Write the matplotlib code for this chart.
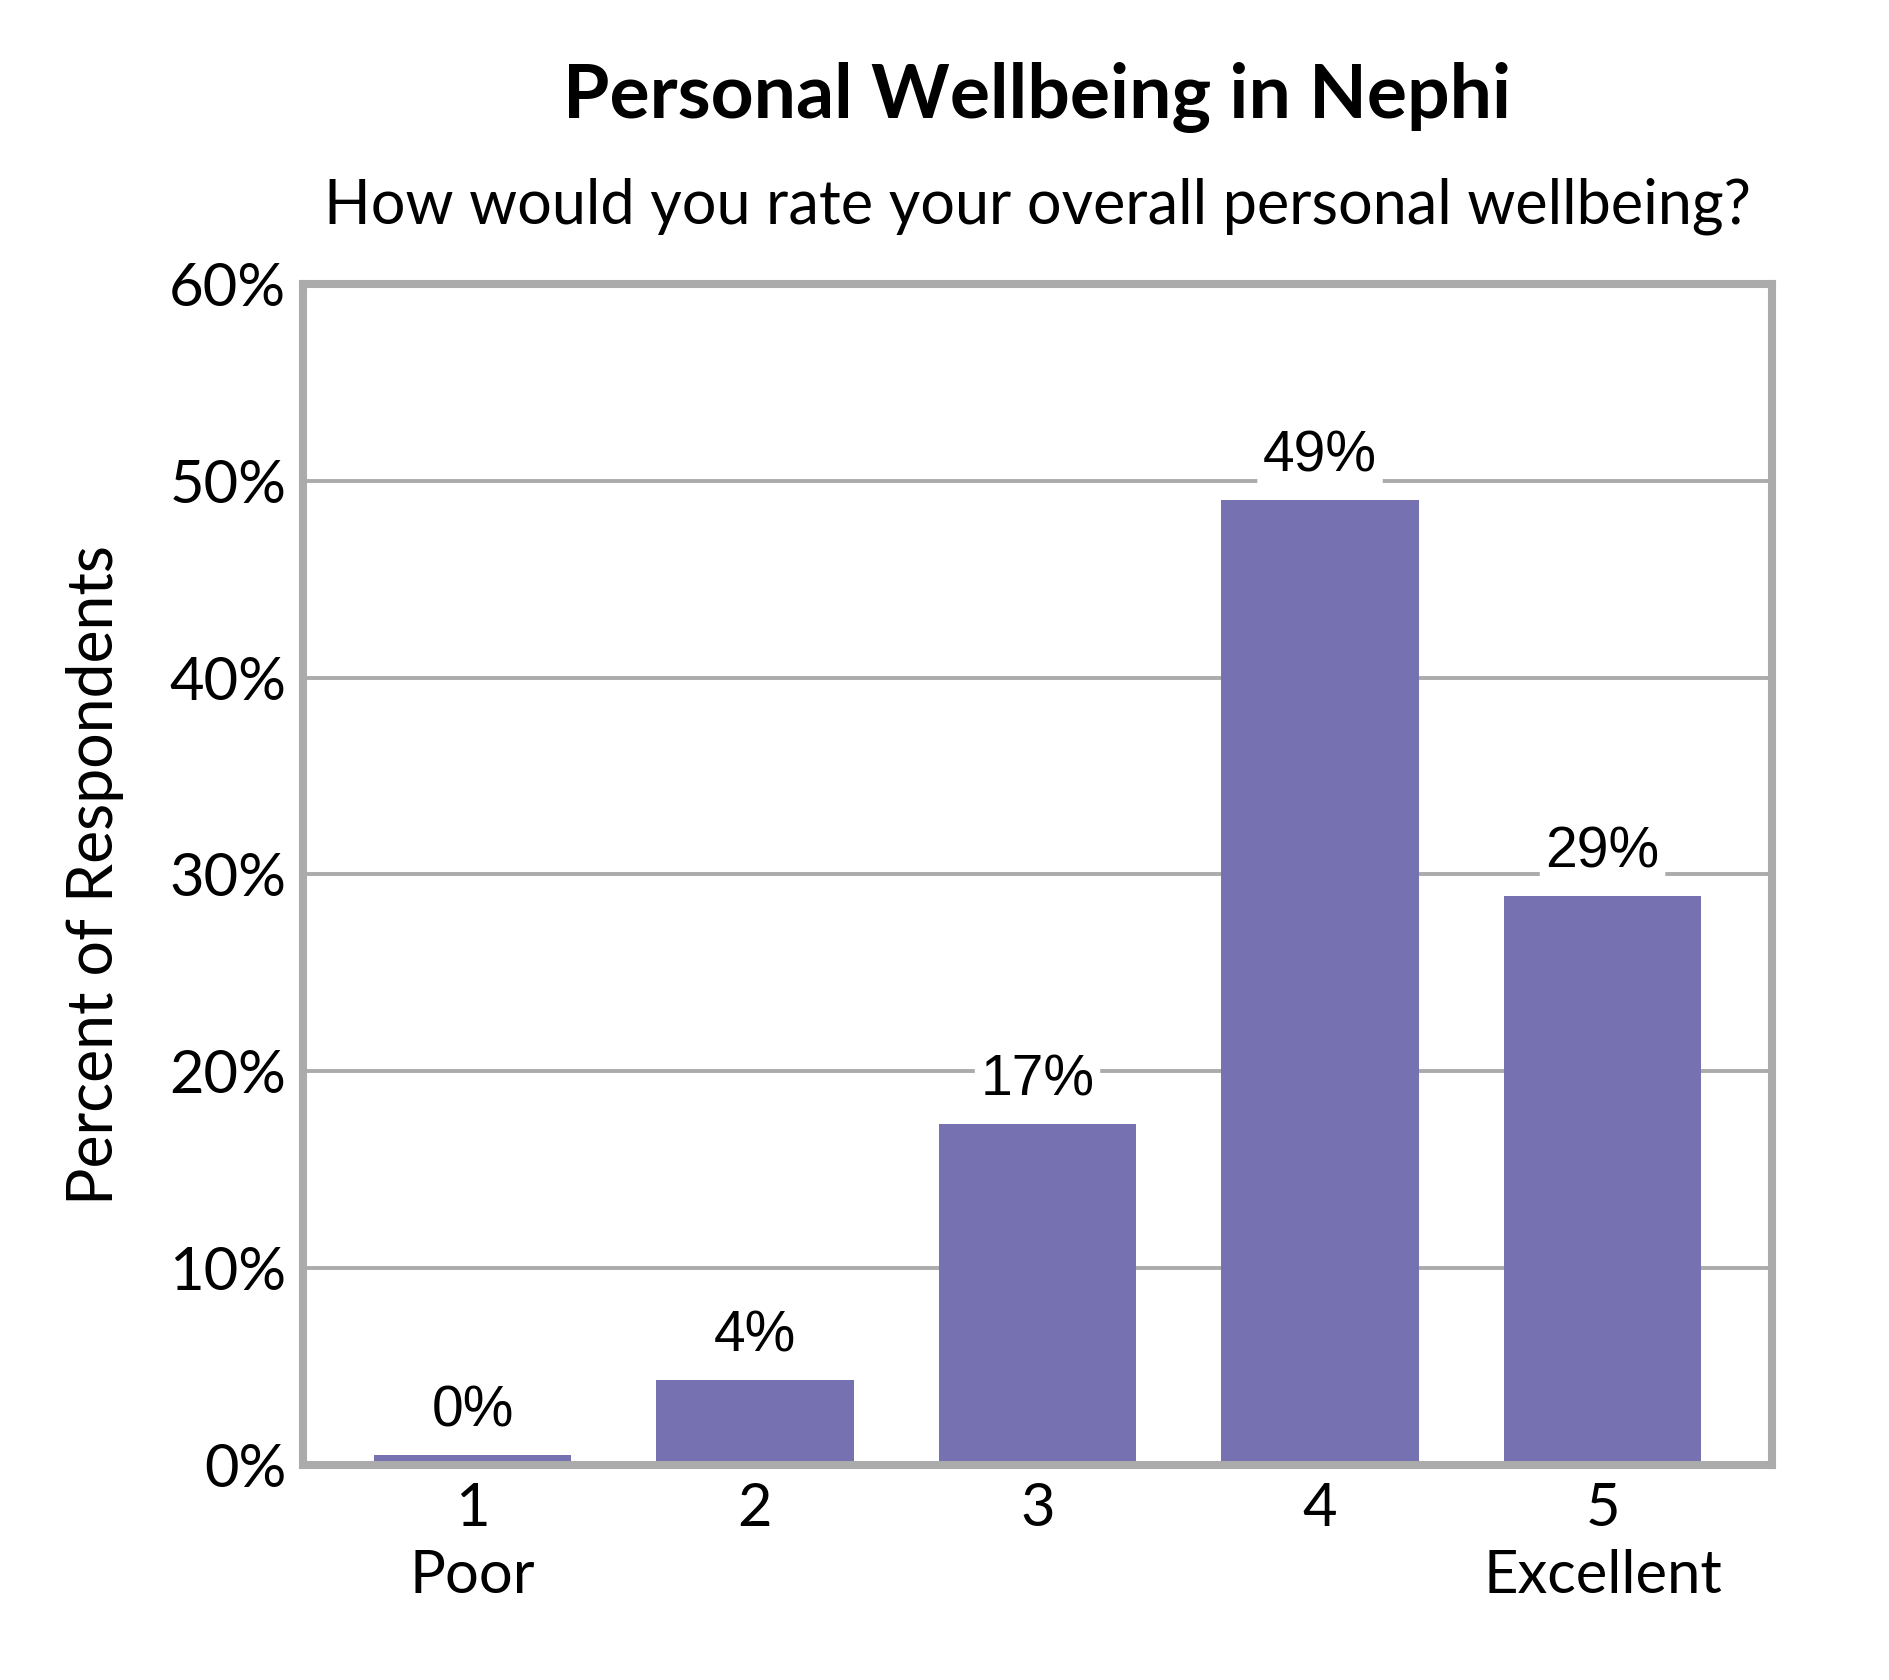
import matplotlib
matplotlib.use("Agg")
import matplotlib.pyplot as plt

# survey answers, share of respondents in percent
ratings = ["1\nPoor", "2", "3", "4", "5\nExcellent"]
shares = [0.5, 4.3, 17.3, 49.0, 28.9]
share_labels = ["0%", "4%", "17%", "49%", "29%"]
yticks = [0, 10, 20, 30, 40, 50, 60]

bar_color = "#7671B0"
grid_color = "#ABABAB"
calibri_like = "Lato"
arial_like = "Liberation Sans"

fig = plt.figure(figsize=(18.9, 16.8), dpi=100)
ax = fig.add_axes([0.1603, 0.1280, 0.9376 - 0.1603, 0.8310 - 0.1280])

x = list(range(len(ratings)))
bars = ax.bar(x, shares, width=0.7, color=bar_color, zorder=3)

ax.set_xlim(-0.6, 4.6)
ax.set_ylim(0, 60)
ax.set_yticks(yticks)
ax.set_yticklabels([f"{t}%" for t in yticks], family=calibri_like, fontsize=43)
ax.set_xticks(x)
ax.set_xticklabels(ratings, family=calibri_like, fontsize=43, linespacing=1.3)
ax.tick_params(axis="both", length=0)
ax.tick_params(axis="y", pad=12)
ax.tick_params(axis="x", pad=12)

for t in yticks[1:-1]:
    ax.axhline(t, color=grid_color, lw=2.8, zorder=1)
for s in ax.spines.values():
    s.set_color(grid_color)
    s.set_linewidth(5.8)
    s.set_zorder(4)

for b, lab in zip(bars, share_labels):
    ax.annotate(lab, (b.get_x() + b.get_width() / 2, b.get_height()),
                xytext=(0, 12), textcoords="offset points",
                ha="center", va="bottom", family=arial_like, fontsize=41,
                bbox=dict(boxstyle="round,pad=0.1", fc="white", ec="none"),
                zorder=5)

fig.text(0.0503, 0.479, "Percent of Respondents", rotation=90, ha="center", va="center",
         family=calibri_like, fontsize=45)

cx = (0.1603 + 0.9376) / 2
fig.text(cx, 0.942, "Personal Wellbeing in Nephi", ha="center", va="center",
         family=calibri_like, fontweight="bold", fontsize=54)
fig.text(cx, 0.877, "How would you rate your overall personal wellbeing?",
         ha="center", va="center", family=calibri_like, fontsize=44)

fig.savefig("out.png", dpi=100)
